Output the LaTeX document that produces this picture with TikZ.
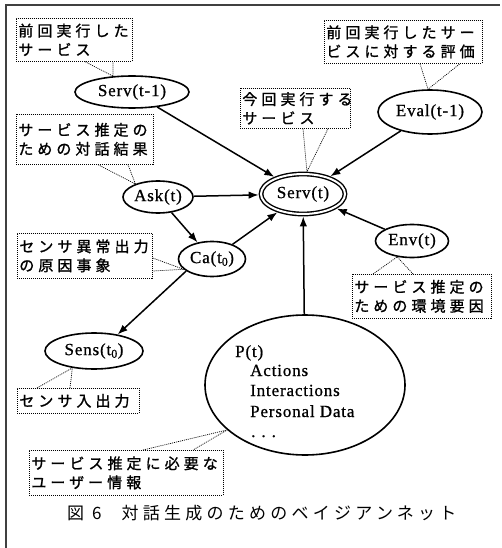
\documentclass[tikz,border=0pt]{standalone}
\usepackage{fontspec}
\newfontfamily\lat{Liberation Serif}[LetterSpace=5,FakeBold=0.8]
\newfontfamily\jp{Noto Sans CJK JP}[LetterSpace=27,FakeBold=1.2]
\newfontfamily\jpcap{Noto Sans CJK JP}[LetterSpace=25]
\usetikzlibrary{shapes.geometric,arrows.meta,calc}
\begin{document}
\begin{tikzpicture}[x=1pt,y=-1pt,
  var/.style={ellipse,draw,line width=1.6pt,inner sep=0pt,font=\lat\fontsize{17}{20}\selectfont},
  ptext/.style={anchor=west,inner sep=0pt,text height=11pt,text depth=3pt,font=\lat\fontsize{17}{20}\selectfont},
  note/.style={draw,line width=0.7pt,dash pattern=on 1pt off 1pt,anchor=north west,
    inner xsep=2pt,inner ysep=2pt,align=left,font=\jp\fontsize{15}{19}\selectfont},
  ptr/.style={line width=0.7pt,dash pattern=on 1pt off 1pt},
  arr/.style={line width=1.5pt,-{Latex[length=10pt,width=7.5pt]}}]
\useasboundingbox (0,0) rectangle (502,548);
\draw[line width=1.5pt,black!75] (5,5) -- (500,5);
\draw[line width=1.5pt,black!75] (6,5) -- (6,548);

% variables
\node[var,minimum width=114,minimum height=32] (s1) at (132,92) {Serv(t-1)};
\node[var,minimum width=70,minimum height=32] (ask) at (158,197) {Ask(t)};
\node[var,minimum width=104,minimum height=44] (eval) at (430,112) {Eval(t-1)};
\node[var,double,line width=1.4pt,double distance=2pt,outer sep=2.4pt,minimum width=84,minimum height=40] (serv) at (303,194) {Serv(t)};
\node[var,minimum width=67,minimum height=35] (ca) at (212,259) {Ca(t\textsubscript{0})};
\node[var,minimum width=98,minimum height=36] (sens) at (94,351) {Sens(t\textsubscript{0})};
\node[var,minimum width=73,minimum height=33] (env) at (412,241) {Env(t)};
\node[ellipse,draw,line width=1.6pt,minimum width=200,minimum height=140] (p) at (305,385) {};
\node[ptext] (pt) at (235,353) {P(t)};
\node[ptext] (pa) at (250,372) {Actions};
\node[ptext] (pi) at (250,392) {Interactions};
\node[ptext] (pd) at (250,413) {Personal Data};
\node[ptext] (pe) at (251,433) {.\hspace{6pt}.\hspace{6pt}.};

% arrows
\draw[arr] (s1) -- (serv);
\draw[arr] (eval) -- (serv);
\draw[arr] (ask) -- (serv);
\draw[arr] (ask) -- (ca);
\draw[arr] (ca) -- (serv);
\draw[arr] (env) -- (serv);
\draw[arr] (p) -- (serv);
\draw[arr] (ca.205) -- (sens.35);

% notes
\node[note,text width=112,minimum height=43] (b1) at (16,18) {前回実行した\\サービス};
\node[note,text width=133,minimum height=50] (b2) at (16,114) {サービス推定の\\ための対話結果};
\node[note,text width=106,minimum height=40] (b3) at (240,88) {今回実行する\\サービス};
\node[note,text width=154,minimum height=43] (b4) at (324,20) {前回実行したサー\\ビスに対する評価};
\node[note,text width=131,minimum height=45] (b5) at (17,233) {センサ異常出力\\の原因事象};
\node[note,text width=118,minimum height=25] (b6) at (17,388) {センサ入出力};
\node[note,text width=135,minimum height=44] (b7) at (352,274) {サービス推定の\\ための環境要因};
\node[note,text width=190,minimum height=45] (b8) at (29,450) {サービス推定に必要な\\ユーザー情報};

% pointers
\draw[ptr] ($(b1.south west)+(69,0)$) -- (s1.140) -- ($(b1.south west)+(97,0)$);
\draw[ptr] ($(b2.south west)+(82,0)$) -- (ask.150) -- ($(b2.south west)+(112,0)$);
\draw[ptr] ($(b3.south west)+(63,0)$) -- (serv.80) -- ($(b3.south west)+(88,0)$);
\draw[ptr] ($(b4.south west)+(96,0)$) -- (eval.95) -- ($(b4.south west)+(136,0)$);
\draw[ptr] ($(b5.north east)+(0,25)$) -- (ca.200) -- ($(b5.north east)+(0,38)$);
\draw[ptr] ($(b6.north west)+(20,0)$) -- (sens.218) -- ($(b6.north west)+(53,0)$);
\draw[ptr] ($(b7.north west)+(21,0)$) -- (env.227) -- ($(b7.north west)+(61,0)$);
\draw[ptr] ($(b8.north west)+(114,0)$) -- (p.210) -- ($(b8.north west)+(164,0)$);

% caption
\node[anchor=west,inner sep=0pt,font=\jpcap\fontsize{17}{20}\selectfont] (cap) at (67,513) {図 6\hspace{20pt}対話生成のためのベイジアンネット};
\end{tikzpicture}
\end{document}
